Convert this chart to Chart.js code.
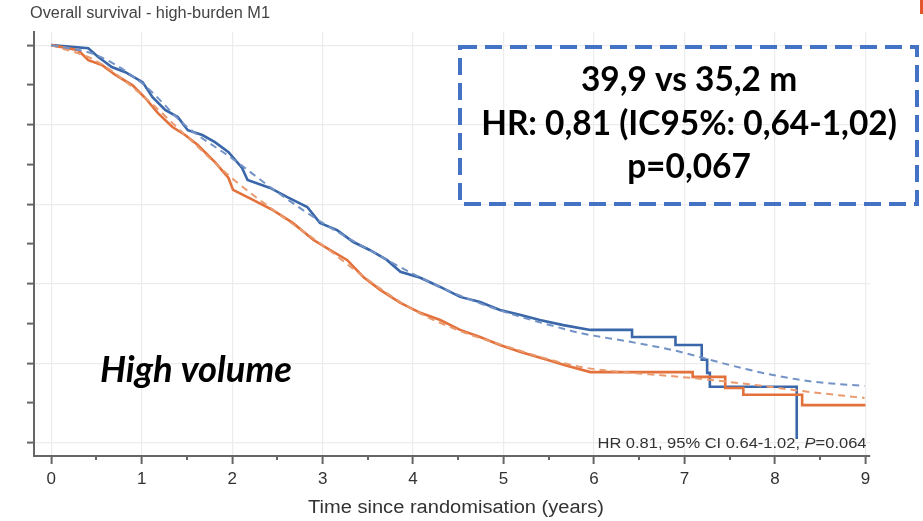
<!DOCTYPE html>
<html>
<head>
<meta charset="utf-8">
<script src="https://cdn.jsdelivr.net/npm/chart.js@4/dist/chart.umd.min.js"></script>
<style>
  html, body { margin: 0; padding: 0; background: #ffffff; }
  #wrap { position: relative; width: 923px; height: 521px; }
  canvas { display: block; }
</style>
</head>
<body>
<div id="wrap"><canvas id="c" width="923" height="521"></canvas></div>
<script>
// ---- Data ----
const chartTitle = "Overall survival - high-burden M1";
const xAxisTitle = "Time since randomisation (years)";
const xTickLabels = ["0", "1", "2", "3", "4", "5", "6", "7", "8", "9"];

// Kaplan-Meier curve, blue arm (years, survival); repeated times mark vertical steps
const blueT = [0, 0.41, 0.52, 0.67, 0.82, 1.01, 1.12, 1.26, 1.40, 1.51, 1.67, 1.81, 1.96, 2.11, 2.17, 2.42, 2.61, 2.83, 2.97, 3.16, 3.34, 3.52, 3.71, 3.86, 4.08, 4.30, 4.52, 4.74, 4.96, 5.18, 5.40, 5.66, 5.96, 6.42, 6.42, 6.90, 6.90, 7.19, 7.19, 7.25, 7.25, 7.28, 7.28, 8.24, 8.24];
const blueS = [1.0, 0.992, 0.970, 0.945, 0.932, 0.907, 0.869, 0.837, 0.819, 0.786, 0.774, 0.756, 0.731, 0.691, 0.661, 0.641, 0.618, 0.593, 0.553, 0.535, 0.505, 0.485, 0.460, 0.430, 0.415, 0.392, 0.367, 0.354, 0.334, 0.322, 0.309, 0.296, 0.284, 0.284, 0.266, 0.266, 0.246, 0.246, 0.209, 0.209, 0.176, 0.176, 0.141, 0.141, 0.010];

// Kaplan-Meier curve, orange arm
const orangeT = [0, 0.30, 0.41, 0.56, 0.71, 0.90, 1.04, 1.18, 1.34, 1.48, 1.62, 1.81, 1.96, 2.01, 2.23, 2.45, 2.67, 2.90, 3.08, 3.27, 3.45, 3.64, 3.86, 4.08, 4.30, 4.52, 4.74, 4.96, 5.18, 5.48, 5.70, 5.96, 7.09, 7.09, 7.45, 7.45, 7.65, 7.65, 8.30, 8.30, 9.0];
const orangeS = [1.0, 0.987, 0.962, 0.950, 0.925, 0.899, 0.867, 0.829, 0.794, 0.774, 0.749, 0.706, 0.666, 0.636, 0.611, 0.585, 0.553, 0.510, 0.485, 0.460, 0.417, 0.384, 0.352, 0.327, 0.309, 0.284, 0.266, 0.246, 0.229, 0.209, 0.194, 0.178, 0.178, 0.166, 0.166, 0.138, 0.138, 0.121, 0.121, 0.095, 0.095];

// Fitted (dashed) curves
const blueFitT = [0, 0.5, 1, 1.5, 2, 2.5, 3, 3.5, 4, 4.5, 5, 5.5, 5.85, 6.4, 6.95, 7.31, 7.69, 8.06, 8.42, 8.99];
const blueFitS = [1.0, 0.975, 0.905, 0.795, 0.715, 0.630, 0.553, 0.487, 0.425, 0.372, 0.330, 0.297, 0.276, 0.254, 0.229, 0.207, 0.185, 0.167, 0.154, 0.143];
const orangeFitT = [0, 0.5, 1, 1.5, 2, 2.5, 3, 3.5, 4, 4.5, 5, 5.5, 5.85, 6.21, 6.95, 7.69, 8.42, 8.99];
const orangeFitS = [1.0, 0.960, 0.875, 0.770, 0.665, 0.578, 0.497, 0.410, 0.335, 0.283, 0.245, 0.210, 0.191, 0.180, 0.166, 0.148, 0.127, 0.113];

const boxLines = ["39,9 vs 35,2 m", "HR: 0,81 (IC95%: 0,64-1,02)", "p=0,067"];
const cohortLabel = "High volume";
const statPieces = ["HR 0.81, 95% CI 0.64-1.02, ", "P", "=0.064"];

// ---- Build chart ----
const pts = (ts, ss) => ts.map((t, i) => ({ x: t, y: ss[i] }));
const BLUE = "#3a67a9";
const ORANGE = "#e2713b";
const BLUE_FIT = "#7393c6";
const ORANGE_FIT = "#e99a6e";
const FONT = "'Liberation Sans', Arial, Helvetica, sans-serif";
const BOLD = "Lato, 'Open Sans', sans-serif";

const isInt = v => Math.abs(v - Math.round(v)) < 1e-6;
const isFifth = v => Math.round(v * 10) % 2 === 0;

// draw text horizontally stretched to a target width
function fitText(ctx, text, x, y, size, style, family, width, align) {
  ctx.font = style + " " + size + "px " + family;
  const w = ctx.measureText(text).width;
  const k = width / w;
  ctx.save();
  ctx.translate(x, y);
  ctx.scale(k, 1);
  ctx.textAlign = align;
  ctx.fillText(text, 0, 0);
  ctx.restore();
}

const overlay = {
  id: "overlay",
  afterDraw(chart) {
    const ctx = chart.ctx;
    const xs = chart.scales.x;
    const ca = chart.chartArea;
    ctx.save();
    // minor ticks on x axis (half years)
    ctx.strokeStyle = "#666";
    ctx.lineWidth = 2;
    for (let v = 0.5; v < 9; v += 1) {
      const px = Math.round(xs.getPixelForValue(v));
      ctx.beginPath();
      ctx.moveTo(px, ca.bottom);
      ctx.lineTo(px, ca.bottom + 4);
      ctx.stroke();
    }
    // chart title
    ctx.fillStyle = "#444";
    ctx.textBaseline = "middle";
    fitText(ctx, chartTitle, 30, 14, 16, "", FONT, 240, "left");

    // x axis title
    ctx.fillStyle = "#333";
    fitText(ctx, xAxisTitle, 456, 508, 18, "", FONT, 296, "center");

    // stat text bottom-right
    ctx.fillStyle = "#333";
    ctx.textBaseline = "alphabetic";
    const sz = 14;
    ctx.font = sz + "px " + FONT;
    const w0 = ctx.measureText(statPieces[0]).width;
    ctx.font = "italic " + sz + "px " + FONT;
    const w1 = ctx.measureText(statPieces[1]).width;
    ctx.font = sz + "px " + FONT;
    const w2 = ctx.measureText(statPieces[2]).width;
    const right = xs.getPixelForValue(9) + 1;
    const k = 269 / (w0 + w1 + w2);
    ctx.save();
    ctx.translate(right - 269, 448);
    ctx.scale(k, 1);
    let sx = 0;
    ctx.textAlign = "left";
    ctx.fillText(statPieces[0], sx, 0); sx += w0;
    ctx.font = "italic " + sz + "px " + FONT;
    ctx.fillText(statPieces[1], sx, 0); sx += w1;
    ctx.font = sz + "px " + FONT;
    ctx.fillText(statPieces[2], sx, 0);
    ctx.restore();

    // annotation box
    ctx.strokeStyle = "#4472c4";
    ctx.lineWidth = 4;
    ctx.setLineDash([17, 8]);
    ctx.strokeRect(460, 47, 457, 157);
    ctx.setLineDash([]);
    ctx.fillStyle = "#000";
    ctx.textBaseline = "middle";
    ctx.font = "bold 26px " + BOLD;
    const mw = ctx.measureText(boxLines[1]).width;
    const fs = 26 * 416 / mw;
    ctx.font = "bold " + fs.toFixed(2) + "px " + BOLD;
    ctx.textAlign = "center";
    ctx.fillText(boxLines[0], 689, 80);
    ctx.fillText(boxLines[1], 689, 124);
    ctx.fillText(boxLines[2], 689, 167);

    // cohort label
    ctx.font = "italic bold 26px " + BOLD;
    const hw = ctx.measureText(cohortLabel).width;
    const hs = 26 * 192 / hw;
    ctx.font = "italic bold " + hs.toFixed(2) + "px " + BOLD;
    ctx.textAlign = "left";
    ctx.fillText(cohortLabel, 100, 370);

    // small red mark at top-right
    ctx.fillStyle = "#e4572e";
    ctx.fillRect(920, 0, 3, 14);
    ctx.restore();
  }
};

new Chart(document.getElementById("c"), {
  type: "line",
  data: {
    datasets: [
      { label: "Blue fit", data: pts(blueFitT, blueFitS), borderColor: BLUE_FIT, borderWidth: 2, borderDash: [7, 5], pointRadius: 0, cubicInterpolationMode: "monotone", fill: false },
      { label: "Orange fit", data: pts(orangeFitT, orangeFitS), borderColor: ORANGE_FIT, borderWidth: 2, borderDash: [7, 5], pointRadius: 0, cubicInterpolationMode: "monotone", fill: false },
      { label: "Orange", data: pts(orangeT, orangeS), borderColor: ORANGE, borderWidth: 2.6, pointRadius: 0, tension: 0, fill: false },
      { label: "Blue", data: pts(blueT, blueS), borderColor: BLUE, borderWidth: 2.6, pointRadius: 0, tension: 0, fill: false }
    ]
  },
  options: {
    responsive: false,
    animation: false,
    events: [],
    layout: { padding: { top: 32, right: 53, left: 0, bottom: 0 } },
    plugins: { legend: { display: false }, tooltip: { enabled: false }, title: { display: false } },
    scales: {
      x: {
        type: "linear",
        min: -0.19,
        max: 9.05,
        afterFit: s => { s.height = 65; },
        border: { display: true, color: "#666", width: 2 },
        grid: {
          color: c => (c.tick && isInt(c.tick.value)) ? "#ececec" : "rgba(0,0,0,0)",
          tickColor: c => (c.tick && isInt(c.tick.value)) ? "#666" : "rgba(0,0,0,0)",
          lineWidth: 1.2,
          tickWidth: 2,
          tickLength: 8,
          drawTicks: true
        },
        ticks: {
          stepSize: 0.5,
          includeBounds: false,
          autoSkip: false,
          maxRotation: 0,
          padding: 5,
          color: "#333",
          font: { family: FONT, size: 17 },
          callback: v => isInt(v) ? xTickLabels[Math.round(v)] : ""
        },
        title: { display: false }
      },
      y: {
        type: "linear",
        min: -0.033,
        max: 1.033,
        afterFit: s => { s.width = 34; },
        border: { display: true, color: "#666", width: 2 },
        grid: {
          color: c => (c.tick && isFifth(c.tick.value)) ? "#ececec" : "rgba(0,0,0,0)",
          tickColor: "#666",
          lineWidth: 1.2,
          tickWidth: 2,
          tickLength: 7,
          drawTicks: true
        },
        ticks: {
          stepSize: 0.1,
          includeBounds: false,
          color: "rgba(0,0,0,0)",
          callback: () => ""
        }
      }
    }
  },
  plugins: [overlay]
});
</script>
</body>
</html>
